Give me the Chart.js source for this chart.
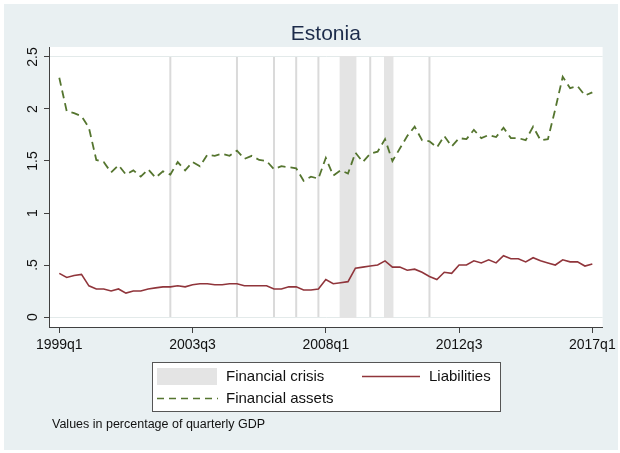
<!DOCTYPE html>
<html>
<head>
<meta charset="utf-8">
<title>Estonia</title>
<script src="https://cdn.jsdelivr.net/npm/chart.js@4"></script>
<style>
    body { margin: 0; background: #ffffff; }
    canvas { display: block; }
</style>
</head>
<body>
<canvas id="myChart" width="620" height="453"></canvas>
<script>
// quarter index 0 = 1999q1 ... 72 = 2017q1
const quarters = [];
for (let i = 0; i <= 72; i++) {
    quarters.push(i);
}

const liabilities = [
    0.42, 0.38, 0.40, 0.41, 0.30, 0.27, 0.27, 0.25, 0.27, 0.23,
    0.25, 0.25, 0.27, 0.28, 0.29, 0.29, 0.30, 0.29, 0.31, 0.32,
    0.32, 0.31, 0.31, 0.32, 0.32, 0.30, 0.30, 0.30, 0.30, 0.27,
    0.27, 0.29, 0.29, 0.26, 0.26, 0.27, 0.36, 0.32, 0.33, 0.34,
    0.47, 0.48, 0.49, 0.50, 0.54, 0.48, 0.48, 0.45, 0.46, 0.43,
    0.39, 0.36, 0.43, 0.42, 0.50, 0.50, 0.54, 0.52, 0.55, 0.52,
    0.59, 0.56, 0.56, 0.53, 0.57, 0.54, 0.52, 0.50, 0.55, 0.53,
    0.53, 0.49, 0.51
];

const financialAssets = [
    2.30, 1.98, 1.96, 1.93, 1.82, 1.51, 1.49, 1.39, 1.46, 1.37,
    1.41, 1.35, 1.42, 1.34, 1.40, 1.37, 1.49, 1.41, 1.49, 1.45,
    1.56, 1.55, 1.57, 1.55, 1.60, 1.52, 1.55, 1.51, 1.50, 1.42,
    1.45, 1.44, 1.43, 1.31, 1.35, 1.33, 1.53, 1.36, 1.41, 1.38,
    1.58, 1.49, 1.57, 1.59, 1.71, 1.50, 1.62, 1.74, 1.83, 1.70,
    1.69, 1.63, 1.74, 1.64, 1.72, 1.71, 1.80, 1.72, 1.75, 1.73,
    1.82, 1.72, 1.72, 1.70, 1.83, 1.70, 1.71, 2.00, 2.31, 2.20,
    2.22, 2.13, 2.16
];

// crisis periods, first and last quarter index
const crisisStart = [15, 24, 29, 32, 35, 38, 42, 44, 50];
const crisisEnd = [15, 24, 29, 32, 35, 40, 42, 45, 50];
const crisisLevel = 2.5;

const xTickValues = [0, 18, 36, 54, 72];
const xTickLabels = ["1999q1", "2003q3", "2008q1", "2012q3", "2017q1"];
const yTickValues = [0, 0.5, 1, 1.5, 2, 2.5];
const yTickLabels = ["0", ".5", "1", "1.5", "2", "2.5"];

const fontName = "'Liberation Sans', Arial, sans-serif";
const bgColor = "#e9f0f2";
const crisisColor = "#e4e4e4";
const crisisEdge = "#dadada";
const liabColor = "#90353b";
const assetColor = "#55752f";

function toPoints(values) {
    return quarters.map((q, i) => ({x: q, y: values[i]}));
}

const backgroundPlugin = {
    id: "statabg",
    beforeDraw(chart) {
        const ctx = chart.ctx;
        const area = chart.chartArea;
        ctx.save();
        ctx.fillStyle = bgColor;
        ctx.fillRect(4, 4, 614, 446);
        ctx.fillStyle = "#ffffff";
        ctx.fillRect(area.left, area.top, area.right - area.left, area.bottom - area.top);
        ctx.restore();
    }
};

const crisisPlugin = {
    id: "crisis",
    beforeDatasetsDraw(chart) {
        const ctx = chart.ctx;
        const x = chart.scales.x;
        const y = chart.scales.y;
        const top = y.getPixelForValue(crisisLevel);
        const bottom = y.getPixelForValue(0);
        ctx.save();
        for (let i = 0; i < crisisStart.length; i++) {
            const x0 = x.getPixelForValue(crisisStart[i]);
            const x1 = x.getPixelForValue(crisisEnd[i]);
            ctx.fillStyle = crisisColor;
            ctx.fillRect(x0, top, x1 - x0, bottom - top);
            ctx.strokeStyle = x1 - x0 < 1 ? crisisEdge : crisisColor;
            ctx.lineWidth = 2;
            ctx.strokeRect(x0, top, x1 - x0, bottom - top);
        }
        ctx.restore();
    }
};

const textPlugin = {
    id: "statatext",
    afterDraw(chart) {
        const ctx = chart.ctx;
        const area = chart.chartArea;
        const y = chart.scales.y;
        ctx.save();

        // title
        ctx.fillStyle = "#1c2b4a";
        ctx.font = "21px " + fontName;
        ctx.textAlign = "center";
        ctx.textBaseline = "alphabetic";
        ctx.fillText("Estonia", (area.left + area.right) / 2, 40);

        // rotated y tick labels
        ctx.fillStyle = "#111111";
        ctx.font = "14px " + fontName;
        for (let i = 0; i < yTickValues.length; i++) {
            ctx.save();
            ctx.translate(36.5, y.getPixelForValue(yTickValues[i]));
            ctx.rotate(-Math.PI / 2);
            ctx.textAlign = "center";
            ctx.fillText(yTickLabels[i], 0, 0);
            ctx.restore();
        }

        // legend box
        ctx.fillStyle = "#ffffff";
        ctx.fillRect(152, 362, 349, 50);
        ctx.strokeStyle = "#555555";
        ctx.lineWidth = 1;
        ctx.strokeRect(152.5, 362.5, 348, 49);

        ctx.fillStyle = crisisColor;
        ctx.fillRect(157, 368, 60, 17);

        ctx.strokeStyle = liabColor;
        ctx.lineWidth = 1.5;
        ctx.beginPath();
        ctx.moveTo(362, 376.5);
        ctx.lineTo(420, 376.5);
        ctx.stroke();

        ctx.strokeStyle = assetColor;
        ctx.setLineDash([7, 5]);
        ctx.beginPath();
        ctx.moveTo(157, 398.5);
        ctx.lineTo(218, 398.5);
        ctx.stroke();
        ctx.setLineDash([]);

        ctx.fillStyle = "#111111";
        ctx.font = "15px " + fontName;
        ctx.textAlign = "left";
        ctx.textBaseline = "middle";
        ctx.fillText("Financial crisis", 226, 377);
        ctx.fillText("Liabilities", 429, 377);
        ctx.fillText("Financial assets", 226, 399);

        // note
        ctx.font = "12.5px " + fontName;
        ctx.fillText("Values in percentage of quarterly GDP", 52, 425);

        ctx.restore();
    }
};

const myChart = new Chart(document.getElementById("myChart").getContext("2d"), {
    type: "line",
    data: {
        datasets: [
            {
                label: "Liabilities",
                data: toPoints(liabilities),
                borderColor: liabColor,
                borderWidth: 1.6,
                pointRadius: 0,
                tension: 0,
                fill: false
            },
            {
                label: "Financial assets",
                data: toPoints(financialAssets),
                borderColor: assetColor,
                borderWidth: 1.8,
                borderDash: [8, 5],
                pointRadius: 0,
                tension: 0,
                fill: false
            }
        ]
    },
    options: {
        responsive: false,
        animation: false,
        devicePixelRatio: 1,
        layout: {padding: {left: 4, right: 17, top: 47, bottom: 0}},
        plugins: {
            legend: {display: false},
            tooltip: {enabled: false}
        },
        scales: {
            x: {
                type: "linear",
                min: -1.39,
                max: 73.39,
                afterBuildTicks: (scale) => {
                    scale.ticks = xTickValues.map(v => ({value: v}));
                },
                afterFit: (scale) => {
                    scale.height = 126;
                },
                ticks: {
                    autoSkip: false,
                    maxRotation: 0,
                    padding: 4,
                    color: "#111111",
                    font: {family: fontName, size: 14},
                    callback: (value) => xTickLabels[xTickValues.indexOf(value)]
                },
                grid: {
                    drawOnChartArea: false,
                    drawTicks: true,
                    tickLength: 6,
                    color: "#404040"
                },
                border: {display: true, color: "#404040", width: 1}
            },
            y: {
                type: "linear",
                min: -0.096,
                max: 2.596,
                afterBuildTicks: (scale) => {
                    scale.ticks = yTickValues.map(v => ({value: v}));
                },
                afterFit: (scale) => {
                    scale.width = 45;
                },
                ticks: {display: false},
                grid: {
                    drawTicks: true,
                    tickLength: 5,
                    tickColor: "#404040",
                    color: (ctx) => (ctx.tick && (ctx.tick.value === 0 || ctx.tick.value === 2.5)) ? "#e3eaea" : "rgba(0,0,0,0)"
                },
                border: {display: true, color: "#404040", width: 1}
            }
        }
    },
    plugins: [backgroundPlugin, crisisPlugin, textPlugin]
});
</script>
</body>
</html>
